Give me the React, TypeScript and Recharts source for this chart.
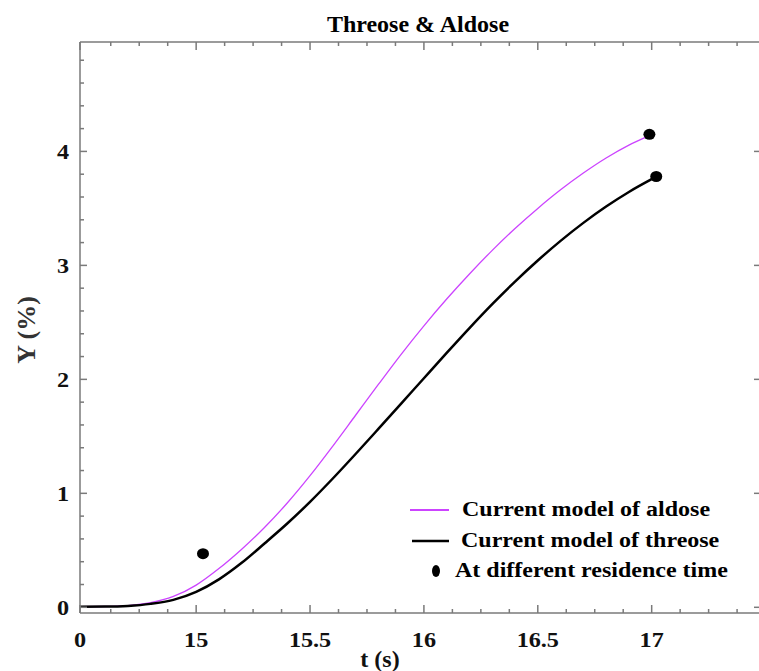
import React from 'react';
import { ComposedChart, Line, Scatter, XAxis, YAxis, Legend } from 'recharts';

// values
const aldoseT = [14.49, 14.6, 14.7, 14.8, 14.9, 15.0, 15.1, 15.2, 15.3, 15.4, 15.5, 15.6, 15.7, 15.8, 15.9, 16.0, 16.1, 16.2, 16.3, 16.4, 16.5, 16.6, 16.7, 16.8, 16.9, 16.98];
const aldoseY = [0.005, 0.007, 0.015, 0.04, 0.095, 0.195, 0.34, 0.51, 0.7, 0.915, 1.155, 1.415, 1.685, 1.955, 2.22, 2.47, 2.705, 2.925, 3.132, 3.324, 3.5, 3.663, 3.81, 3.942, 4.055, 4.13];

const threoseT = [14.49, 14.6, 14.7, 14.8, 14.9, 15.0, 15.1, 15.2, 15.3, 15.4, 15.5, 15.6, 15.7, 15.8, 15.9, 16.0, 16.1, 16.2, 16.3, 16.4, 16.5, 16.6, 16.7, 16.8, 16.9, 17.0];
const threoseY = [0.005, 0.006, 0.012, 0.03, 0.065, 0.135, 0.245, 0.39, 0.56, 0.735, 0.925, 1.13, 1.345, 1.565, 1.787, 2.01, 2.232, 2.45, 2.66, 2.858, 3.043, 3.215, 3.373, 3.516, 3.644, 3.756];

const expT = [15.03, 16.99, 17.02];
const expY = [0.47, 4.15, 3.78];

const xMajorTicks = [14.49, 15, 15.5, 16, 16.5, 17];
const xTickLabels = ['0', '15', '15.5', '16', '16.5', '17'];
const xMinorTicks = [14.625, 14.75, 14.875, 15.125, 15.25, 15.375, 15.625, 15.75, 15.875, 16.125, 16.25, 16.375, 16.625, 16.75, 16.875, 17.125, 17.25, 17.375];

const yMajorTicks = [0, 1, 2, 3, 4];
const yTickLabels = ['0', '1', '2', '3', '4'];
const yMinorTicks = [0.2, 0.4, 0.6, 0.8, 1.2, 1.4, 1.6, 1.8, 2.2, 2.4, 2.6, 2.8, 3.2, 3.4, 3.6, 3.8, 4.2, 4.4, 4.6, 4.8];

const aldoseData = aldoseT.map((t, i) => ({ t, y: aldoseY[i] }));
const threoseData = threoseT.map((t, i) => ({ t, y: threoseY[i] }));
const expData = expT.map((t, i) => ({ t, y: expY[i] }));

const xAllTicks = [...xMajorTicks, ...xMinorTicks].sort((a, b) => a - b);
const yAllTicks = [...yMajorTicks, ...yMinorTicks].sort((a, b) => a - b);

const X_DOMAIN = [14.49, 17.48];
const Y_DOMAIN = [-0.05, 4.96];

const FONT = '"Liberation Serif", "Times New Roman", serif';
const AXIS = '#7a7a7a';
const PURPLE = '#cc44ff';

const XTickBottom = (props: any) => {
  const { x, y, payload } = props;
  const idx = xMajorTicks.indexOf(payload.value);
  const len = idx >= 0 ? 8 : 4;
  return (
    <g>
      <line x1={x} y1={y} x2={x} y2={y - len} stroke={AXIS} strokeWidth={1.5} />
      {idx >= 0 && (
        <text
          transform={`translate(${x},${y + 34}) scale(1.1,1)`}
          textAnchor="middle"
          fontFamily={FONT}
          fontWeight="bold"
          fontSize={22}
          fill="#111"
        >
          {xTickLabels[idx]}
        </text>
      )}
    </g>
  );
};

const XTickTop = (props: any) => {
  const { x, y, payload } = props;
  const len = xMajorTicks.indexOf(payload.value) >= 0 ? 8 : 4;
  return <line x1={x} y1={y} x2={x} y2={y + len} stroke={AXIS} strokeWidth={1.5} />;
};

const YTickLeft = (props: any) => {
  const { x, y, payload } = props;
  const idx = yMajorTicks.indexOf(payload.value);
  const len = idx >= 0 ? 7 : 4;
  return (
    <g>
      <line x1={x} y1={y} x2={x + len} y2={y} stroke={AXIS} strokeWidth={1.5} />
      {idx >= 0 && (
        <text
          transform={`translate(${x - 11},${y + 8}) scale(1.1,1)`}
          textAnchor="end"
          fontFamily={FONT}
          fontWeight="bold"
          fontSize={22}
          fill="#111"
        >
          {yTickLabels[idx]}
        </text>
      )}
    </g>
  );
};

const YTickRight = (props: any) => {
  const { x, y } = props;
  return <line x1={x} y1={y} x2={x - 7} y2={y} stroke={AXIS} strokeWidth={1.5} />;
};

const legendText = (x: number, y: number, s: string) => (
  <text
    transform={`translate(${x},${y}) scale(1.2,1)`}
    fontFamily={FONT}
    fontWeight="bold"
    fontSize={20}
    fill="#000"
  >
    {s}
  </text>
);

const renderLegend = () => (
  <svg width={360} height={95} style={{ display: 'block', overflow: 'visible' }}>
    <line x1={10} x2={49} y1={17} y2={17} stroke={PURPLE} strokeWidth={1.8} />
    {legendText(62, 23, 'Current model of aldose')}
    <line x1={12} x2={49} y1={48} y2={48} stroke="#000" strokeWidth={2.5} />
    {legendText(61, 54, 'Current model of threose')}
    <ellipse cx={36} cy={78} rx={4} ry={6} fill="#000" />
    {legendText(55, 84, 'At different residence time')}
  </svg>
);

const dotShape = (p: any) => <ellipse cx={p.cx} cy={p.cy} rx={6} ry={5.5} fill="#000" />;

const App: React.FC = () => {
  return (
    <div style={{ position: 'absolute', left: 0, top: 0, width: 759, height: 671, overflow: 'hidden', background: '#fff' }}>
      {/* title kept as real text above the plot */}
      <div
        style={{
          position: 'absolute',
          left: 0,
          top: 10,
          width: 836,
          textAlign: 'center',
          fontFamily: FONT,
          fontWeight: 'bold',
          fontSize: 24,
          lineHeight: '28px',
          color: '#000',
        }}
      >
        Threose &amp; Aldose
      </div>
      <ComposedChart width={762} height={671} margin={{ top: 41, right: 0, bottom: 0, left: 0 }}>
        <XAxis
          type="number"
          dataKey="t"
          domain={X_DOMAIN}
          allowDataOverflow
          ticks={xAllTicks}
          interval={0}
          tickSize={0}
          tickMargin={0}
          tickLine={false}
          tick={<XTickBottom />}
          height={58}
          axisLine={{ stroke: AXIS, strokeWidth: 1.5 }}
          label={{
            value: 't (s)',
            content: () => (
              <text x={380} y={667} textAnchor="middle" fontFamily={FONT} fontWeight="bold" fontSize={24} fill="#111">
                t (s)
              </text>
            ),
          }}
        />
        <XAxis
          xAxisId="top"
          orientation="top"
          type="number"
          dataKey="t"
          domain={X_DOMAIN}
          allowDataOverflow
          ticks={xAllTicks}
          interval={0}
          tickSize={0}
          tickMargin={0}
          tickLine={false}
          tick={<XTickTop />}
          height={1}
          axisLine={{ stroke: AXIS, strokeWidth: 1.5 }}
        />
        <YAxis
          type="number"
          dataKey="y"
          domain={Y_DOMAIN}
          allowDataOverflow
          ticks={yAllTicks}
          interval={0}
          tickSize={0}
          tickMargin={0}
          tickLine={false}
          tick={<YTickLeft />}
          width={80}
          axisLine={{ stroke: AXIS, strokeWidth: 1.5 }}
          label={{
            value: 'Y (%)',
            content: () => (
              <text
                transform="translate(35,330) rotate(-90)"
                textAnchor="middle"
                fontFamily={FONT}
                fontWeight="bold"
                fontSize={26}
                fill="#333"
              >
                Y (%)
              </text>
            ),
          }}
        />
        <YAxis
          yAxisId="right"
          orientation="right"
          type="number"
          domain={Y_DOMAIN}
          allowDataOverflow
          ticks={yMajorTicks}
          interval={0}
          tickSize={0}
          tickMargin={0}
          tickLine={false}
          tick={<YTickRight />}
          width={1}
          axisLine={{ stroke: AXIS, strokeWidth: 1.5 }}
        />
        <Legend layout="vertical" align="center" verticalAlign="middle" wrapperStyle={{ left: 400, top: 493, width: 360, height: 95 }} content={renderLegend} />
        <Line
          data={aldoseData}
          dataKey="y"
          name="Current model of aldose"
          type="monotone"
          stroke={PURPLE}
          strokeWidth={1.3}
          dot={false}
          isAnimationActive={false}
        />
        <Line
          data={threoseData}
          dataKey="y"
          name="Current model of threose"
          type="monotone"
          stroke="#000"
          strokeWidth={2.5}
          dot={false}
          isAnimationActive={false}
        />
        <Scatter data={expData} dataKey="y" name="At different residence time" fill="#000" shape={dotShape} isAnimationActive={false} />
      </ComposedChart>
    </div>
  );
};

export default App;
